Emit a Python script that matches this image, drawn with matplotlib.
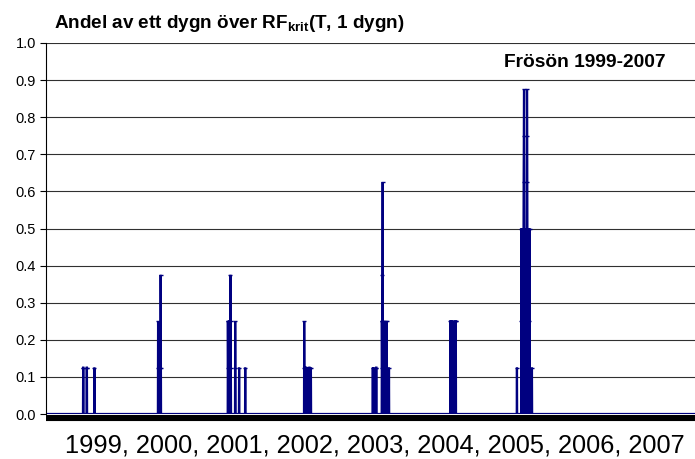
import numpy as np
import pandas as pd
import matplotlib
matplotlib.use('Agg')
import matplotlib.pyplot as plt

plt.rcParams['font.family'] = ['Liberation Sans', 'DejaVu Sans']
plt.rcParams['mathtext.fontset'] = 'custom'
plt.rcParams['mathtext.rm'] = 'Liberation Sans'
plt.rcParams['mathtext.bf'] = 'Liberation Sans:bold'

# episodes: start date and the daily values from that date on (rest of the days are 0)
event_starts = [
    '1999-07-03', '1999-07-21', '1999-08-29',
    '2000-07-17', '2000-07-24', '2000-07-30',
    '2001-07-06', '2001-07-12', '2001-07-19', '2001-08-12', '2001-09-01', '2001-10-02',
    '2002-07-28', '2002-08-06', '2002-08-15', '2002-08-23', '2002-08-31',
    '2003-07-11', '2003-07-16', '2003-07-28', '2003-08-26', '2003-09-06',
    '2003-09-14', '2003-09-20', '2003-10-01',
    '2004-08-07', '2004-08-15', '2004-08-23', '2004-09-01',
    '2005-07-11', '2005-08-02', '2005-08-07', '2005-08-12', '2005-08-22',
    '2005-08-29', '2005-09-08', '2005-09-13', '2005-09-25',
]
event_values = [
    [0.125, 0.125], [0.125, 0.125], [0.125],
    [0.25, 0.125], [0.125, 0.125], [0.375, 0.125],
    [0.25, 0.125, 0.25], [0.25, 0.25], [0.375, 0.25, 0.125], [0.25, 0.125], [0.125], [0.125],
    [0.25, 0.125, 0.125], [0.125, 0.125], [0.125], [0.125, 0.125], [0.125],
    [0.125], [0.125], [0.125, 0.125], [0.25, 0.125, 0.25, 0.375, 0.625, 0.25, 0.125], [0.25, 0.125],
    [0.125, 0.25, 0.125], [0.25], [0.125],
    [0.25, 0.25, 0.125, 0.25], [0.25, 0.25], [0.25, 0.125, 0.25], [0.25, 0.25, 0.25, 0.25],
    [0.125], [0.5, 0.25], [0.5, 0.375], [0.25, 0.5, 0.625, 0.75, 0.875, 0.5], [0.5],
    [0.375, 0.625, 0.875, 0.75, 0.5], [0.5, 0.25], [0.5], [0.125],
]

days = pd.date_range('1999-01-01', '2007-12-31', freq='D')
andel = pd.Series(0.0, index=days)
for start, vals in zip(event_starts, event_values):
    idx = pd.date_range(start, periods=len(vals), freq='D')
    andel[idx] = vals

title = r'Andel av ett dygn över RF$_{\mathbf{krit}}$(T, 1 dygn)'
station = 'Frösön 1999-2007'
years = ', '.join(str(y) for y in range(1999, 2008))

fig = plt.figure(figsize=(6.95, 4.59), dpi=100)
ax = fig.add_axes([45.5 / 695, 45 / 459, 1 - 45.5 / 695, 371 / 459])

navy = '#000080'
ax.plot(andel.index, andel.values, color=navy, lw=1.6, solid_joinstyle='miter')
nz = andel[andel > 0]
ax.plot(nz.index, nz.values, ls='none', marker='_', ms=3, mew=1.0, color=navy)

ax.set_xlim(pd.Timestamp('1998-12-24'), pd.Timestamp('2007-12-31'))
ax.set_ylim(0, 1.0)
ax.set_yticks(np.arange(0, 1.01, 0.1))
ax.set_yticklabels(['%.1f' % v for v in np.arange(0, 1.01, 0.1)], fontsize=10.5)
ax.tick_params(axis='y', length=4, width=0.8, pad=3)
ax.set_xticks([])
ax.grid(axis='y', color='#303030', lw=0.8)
ax.set_axisbelow(True)

for s in ['top', 'right']:
    ax.spines[s].set_visible(False)
ax.spines['left'].set_linewidth(0.8)
ax.spines['bottom'].set_position(('outward', 2.9))
ax.spines['bottom'].set_linewidth(4.4)
ax.spines['bottom'].set_capstyle('butt')

fig.text(54 / 695, 1 - 28 / 459, title, fontsize=13.6, fontweight='bold', va='baseline')
ax.text(504 / 695, 1 - 66.7 / 459, station, transform=fig.transFigure,
        fontsize=13.8, fontweight='bold', va='baseline')
fig.text(375 / 695, 1 - 453 / 459, years, fontsize=18.3, ha='center', va='baseline')

fig.savefig('out.png', dpi=100)
